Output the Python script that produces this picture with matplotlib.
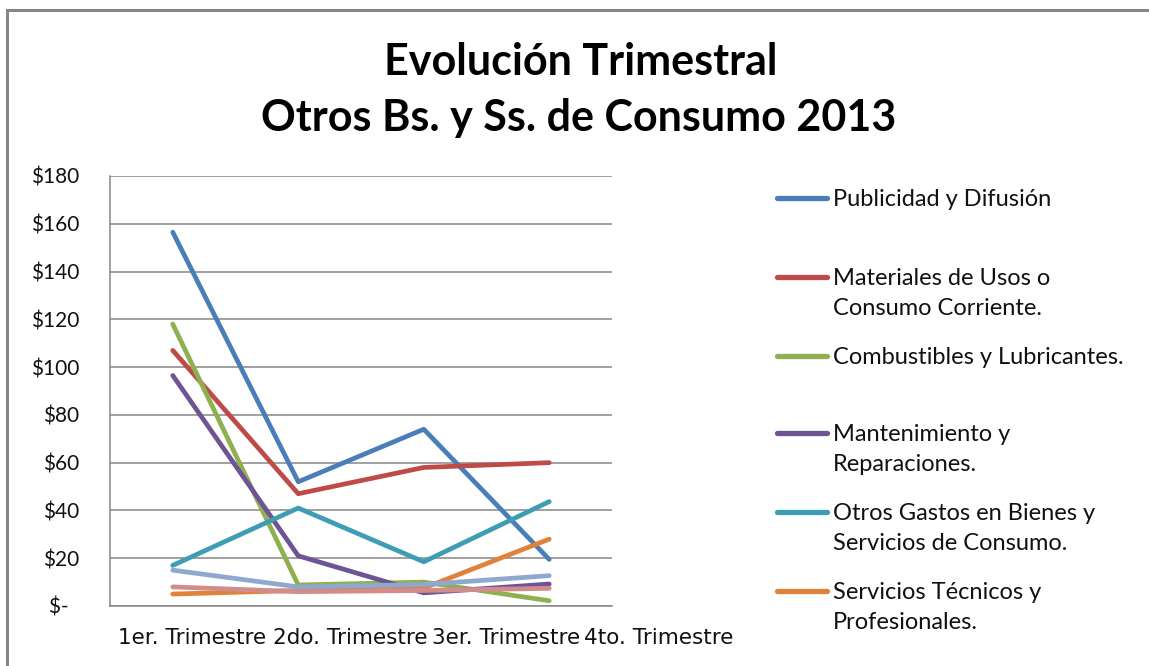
import matplotlib.pyplot as plt
from matplotlib.lines import Line2D
from matplotlib.patches import Rectangle
from matplotlib.transforms import ScaledTranslation

W, H = 1149, 666

trimestres = ["1er. Trimestre", "2do. Trimestre", "3er. Trimestre", "4to. Trimestre"]
publicidad = [156.5, 52, 74, 19.5]
materiales = [107, 47, 58, 60]
combustibles = [118, 8.8, 10, 2.2]
mantenimiento = [96.5, 21, 5.5, 9.2]
otros_gastos = [17, 41, 18.5, 43.7]
servicios_tec = [5, 6.5, 7.5, 28]
serie_7 = [15, 8, 9, 12.7]
serie_8 = [8, 6, 6.5, 7.4]

nombres = ["Publicidad y Difusión",
           "Materiales de Usos o\nConsumo Corriente.",
           "Combustibles y Lubricantes.",
           "Mantenimiento y\nReparaciones.",
           "Otros Gastos en Bienes y\nServicios de Consumo.",
           "Servicios Técnicos y\nProfesionales."]
colores = ["#4a7ebb", "#be4b48", "#8fb04e", "#6f5494", "#3f9cb5", "#e0823a",
           "#8ea8cf", "#d08d8b"]
y_ticks = [0, 20, 40, 60, 80, 100, 120, 140, 160, 180]

plt.rcParams['font.family'] = ['Lato', 'DejaVu Sans']


def px(x):
    return x / W


def py(y):
    return 1 - y / H


fig = plt.figure(figsize=(W / 100, H / 100), dpi=100)
ax = fig.add_axes([px(110), py(606), px(612) - px(110), py(176) - py(606)])

series = [publicidad, materiales, combustibles, mantenimiento, otros_gastos,
          servicios_tec, serie_7, serie_8]
x = range(len(trimestres))
for vals, c in zip(series, colores):
    ax.plot(x, vals, color=c, lw=3.4, solid_capstyle='round', solid_joinstyle='round')

ax.set_xlim(-0.5, 3.5)
ax.set_ylim(0, 180)
ax.set_yticks(y_ticks)
ax.set_yticklabels(["$-  "] + ["$%d" % v for v in y_ticks[1:]])
ax.set_xticks(list(x))
ax.set_xticklabels(trimestres, fontfamily='DejaVu Sans', fontsize=15.5)
ax.tick_params(axis='both', length=0, colors='#111111')
ax.tick_params(axis='y', labelsize=15, pad=22)
ax.tick_params(axis='x', pad=16)
# en la imagen original las etiquetas salen corridas a la derecha
corrimiento = [19, 52, 82, 109]
for lbl, dx in zip(ax.get_xticklabels(), corrimiento):
    lbl.set_transform(lbl.get_transform() + ScaledTranslation(dx / 100, 0, fig.dpi_scale_trans))
ax.grid(axis='y', color='#868686', lw=1.1)
ax.set_axisbelow(True)
for s in ['top', 'right']:
    ax.spines[s].set_visible(False)
for s in ['left', 'bottom']:
    ax.spines[s].set_color('#868686')
    ax.spines[s].set_linewidth(1.1)

# titulo
fig.text(px(581), py(62), "Evolución Trimestral", ha='center', va='center',
         fontsize=31, fontweight='bold')
fig.text(px(579), py(118), "Otros Bs. y Ss. de Consumo 2013", ha='center', va='center',
         fontsize=31, fontweight='bold')

# leyenda (solo las seis primeras series se ven)
leg_y = [198, 277, 356, 433, 512, 591]
for nombre, c, yy in zip(nombres, colores, leg_y):
    fig.add_artist(Line2D([px(777), px(827)], [py(yy), py(yy)], color=c, lw=3.8,
                          solid_capstyle='round'))
    for i, linea in enumerate(nombre.split("\n")):
        fig.text(px(833), py(yy + 8 + 30 * i), linea, ha='left', va='baseline',
                 fontsize=17, color='#111111')

# borde exterior
fig.add_artist(Rectangle((px(7), -0.2), 1.2, py(10) + 0.2, fill=False,
                         edgecolor='#868686', lw=2.2))

fig.savefig("out.png", dpi=100)
